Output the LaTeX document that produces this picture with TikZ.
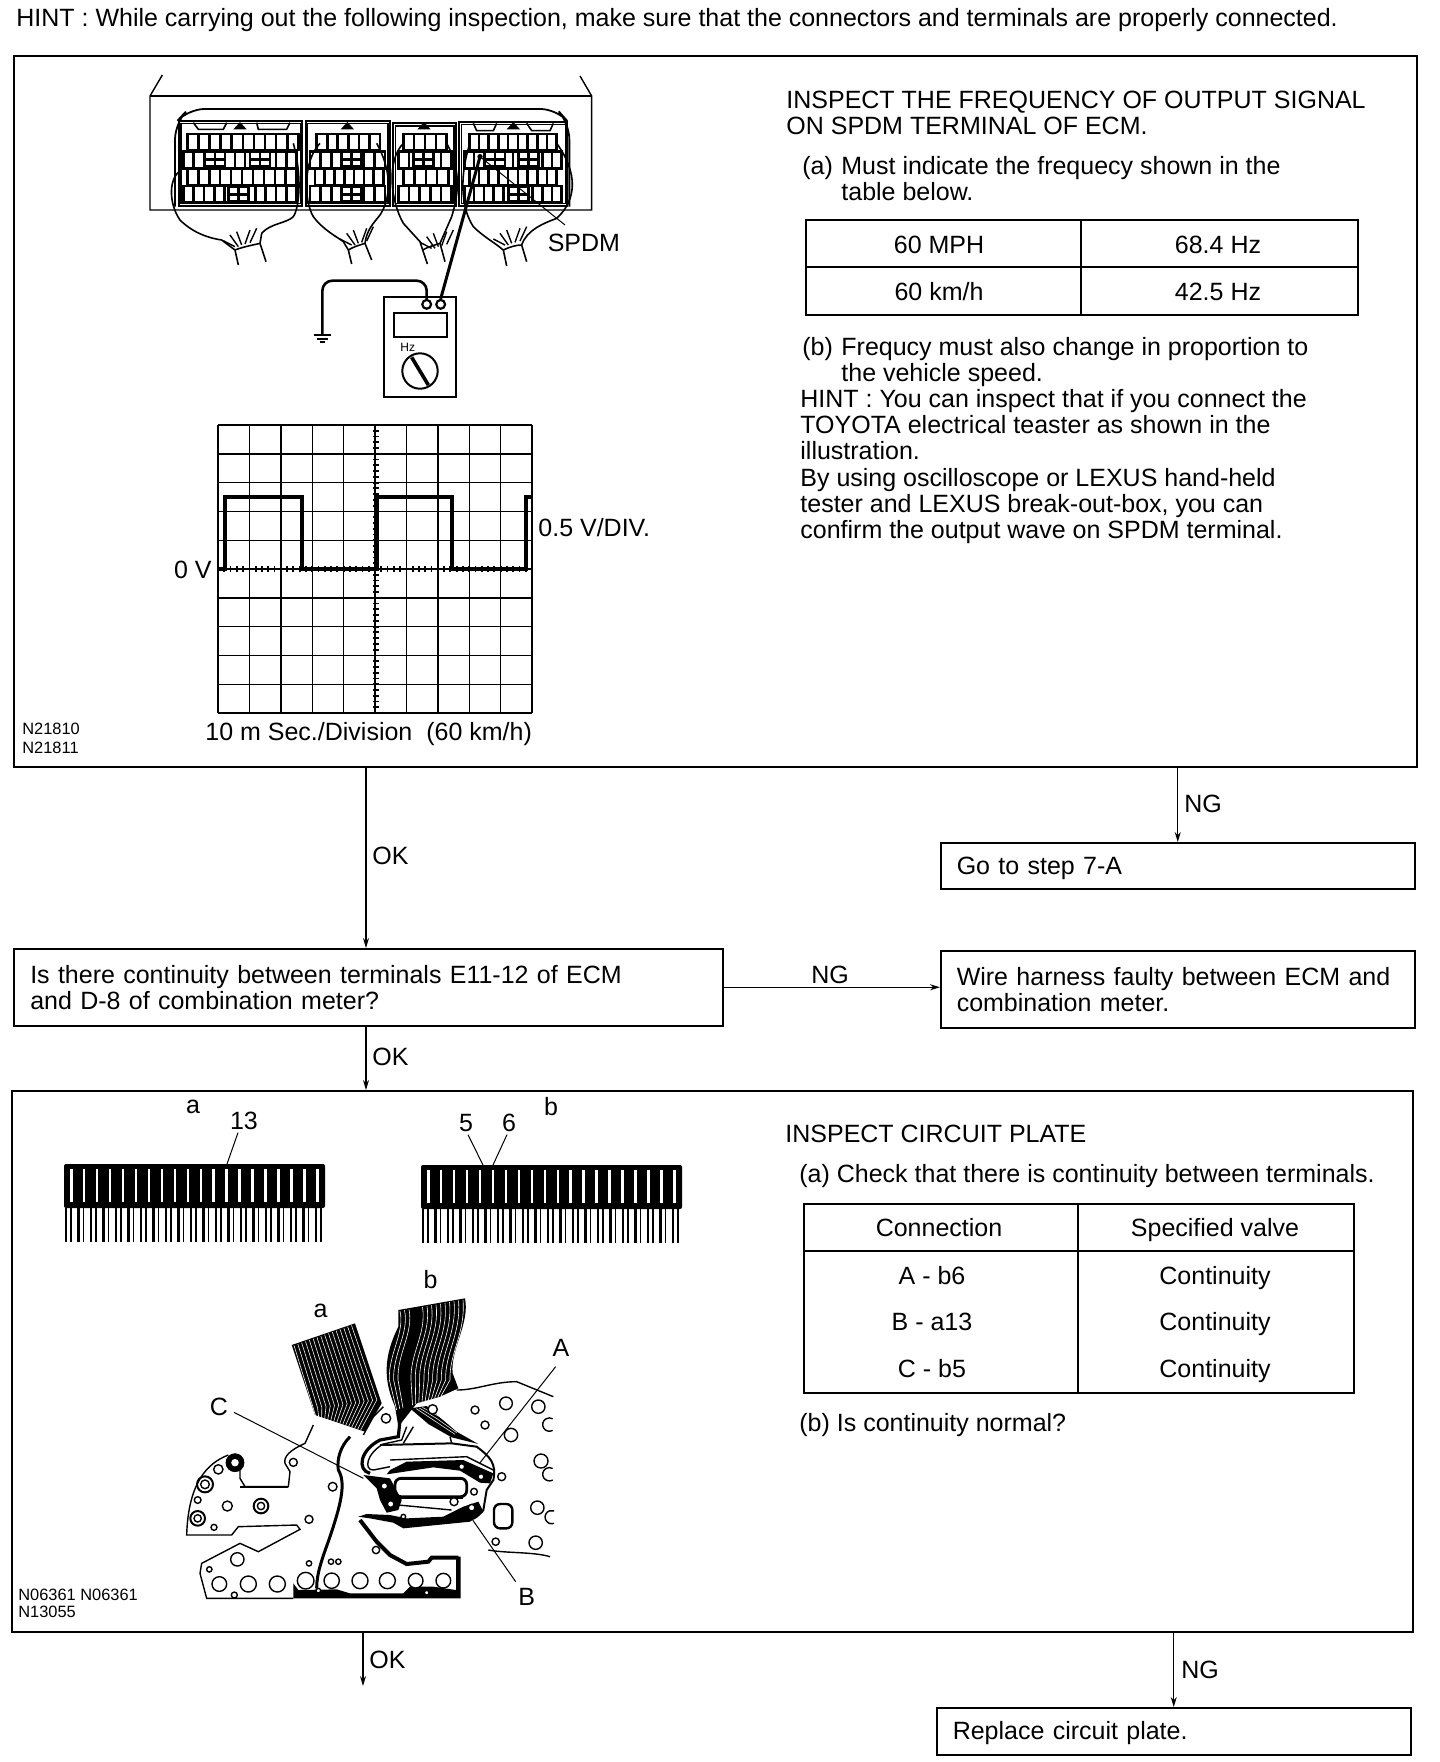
\documentclass[tikz,border=0pt]{standalone}
\usepackage{fontspec}
\usetikzlibrary{arrows.meta}
\setmainfont{Liberation Sans}
\tikzset{
  panel/.style={draw,line width=0.75pt,anchor=north west,inner sep=0pt},
  flowbox/.style={draw,line width=0.75pt,anchor=north west,inner xsep=8pt,inner ysep=0pt,align=left,font=\bodyfont},
  txt/.style={anchor=base west,inner sep=0pt,font=\bodyfont},
  mid/.style={anchor=base,inner sep=0pt,font=\bodyfont},
  tiny/.style={anchor=base west,inner sep=0pt,font=\fontsize{8.2}{9}\selectfont},
  flow/.style={->,line width=0.6pt},
  grid/.style={line width=0.7pt},
  pcb/.style={line width=0.7pt},
  hole/.style={line width=0.7pt,fill=white},
  cell/.style={line width=1.3pt},
}
\newcommand{\bodyfont}{\fontsize{12.5}{13}\selectfont}
% one row of terminals: x0,x1,y0,y1,cells
\newcommand{\conrow}[5]{
  \draw[cell] (#1,#3) rectangle (#2,#4);
  \foreach \k in {1,...,#5} \draw[cell] ({#1+(#2-#1)*\k/(#5+1)},#3) -- ({#1+(#2-#1)*\k/(#5+1)},#4);
}
\newcommand{\concross}[2]{
  \fill[white] (#1-30,#2-22) rectangle (#1+30,#2+22);
  \draw[cell] (#1-30,#2-22) rectangle (#1+30,#2+22);
  \draw[cell] (#1-30,#2) -- (#1+30,#2);
  \draw[cell] (#1,#2-22) -- (#1,#2+22);
}
% contact strip: left x, top y
\newcommand{\stripcon}[2]{
  \fill[rounded corners=1pt] (#1,#2) rectangle (#1+261,#2+44);
  \foreach \k in {0,...,19} \fill[white] ({#1+6+\k*12.95},#2+5) rectangle ({#1+8.5+\k*12.95},#2+38);
  \foreach \k in {0,...,20} {
    \draw[line width=1.2pt] ({#1+2+\k*12.5},#2+44) -- ({#1+2+\k*12.5},#2+78);
    \draw[line width=0.7pt] ({#1+7+\k*12.5},#2+44) -- ({#1+7+\k*12.5},#2+78);
  }
}
\begin{document}
\begin{tikzpicture}[>={Stealth[length=5pt,width=3pt]},x=0.5pt,y=-0.5pt]
\useasboundingbox (0,0) rectangle (1440,1762);

\node[txt] (hint) at (16,26) {HINT : While carrying out the following inspection, make sure that the connectors and terminals are properly connected.};

% panels and flow boxes
\node[panel,minimum width=701.5pt,minimum height=355.5pt] (panelA) at (13,55) {};
\node[flowbox,minimum width=237pt,minimum height=23pt,text width=221pt,text height=11pt] (gotobox) at (940,842) {Go to step 7-A};
\node[flowbox,minimum width=354.5pt,minimum height=38.5pt,text width=338pt] (askbox) at (13,948) {Is there continuity between terminals E11-12 of ECM\\and D-8 of combination meter?};
\node[flowbox,minimum width=237pt,minimum height=38.5pt,text width=221pt] (wirebox) at (940,950) {Wire harness faulty between ECM and\\combination meter.};
\node[panel,minimum width=700.5pt,minimum height=270.5pt] (panelB) at (11,1090) {};
\node[flowbox,minimum width=237pt,minimum height=23.5pt,text width=221pt,text height=11pt] (replacebox) at (936,1707) {Replace circuit plate.};
\coordinate (okA) at (366,0);
\coordinate (okB) at (363,1686);

\draw[flow] (okA |- panelA.south) -- (okA |- askbox.north);
\draw[flow] (panelA.south -| gotobox.north) -- (gotobox.north);
\draw[flow] (askbox.east) -- (askbox.east -| wirebox.west);
\draw[flow] (okA |- askbox.south) -- (okA |- panelB.north);
\draw[flow] (okB |- panelB.south) -- (okB);
\draw[flow] (panelB.south -| replacebox.north) -- (replacebox.north);
\node[txt] (okone) at (372,864) {OK};
\node[txt] (ngone) at (1184,812) {NG};
\node[txt] (ngtwo) at (811,983) {NG};
\node[txt] (oktwo) at (372,1065) {OK};
\node[txt] (okthree) at (369,1668) {OK};
\node[txt] (ngthree) at (1181,1678) {NG};

% text of first panel
\node[txt] (titleA) at (786,108) {INSPECT THE FREQUENCY OF OUTPUT SIGNAL};
\node[txt] (titleAb) at (786,134) {ON SPDM TERMINAL OF ECM.};
\node[txt] (stepa) at (802,174) {(a)};
\node[txt] (stepatxt) at (841,174) {Must indicate the frequecy shown in the};
\node[txt] (stepatwo) at (841,200) {table below.};
\node[txt] (stepb) at (802,355) {(b)};
\node[txt] (stepbtxt) at (841,355) {Frequcy must also change in proportion to};
\node[txt] (stepbtwo) at (841,381) {the vehicle speed.};
\node[txt] (hintA) at (800,407) {HINT : You can inspect that if you connect the};
\node[txt] (hintB) at (800,433) {TOYOTA electrical teaster as shown in the};
\node[txt] (hintC) at (800,459) {illustration.};
\node[txt] (hintD) at (800,486) {By using oscilloscope or LEXUS hand-held};
\node[txt] (hintE) at (800,512) {tester and LEXUS break-out-box, you can};
\node[txt] (hintF) at (800,538) {confirm the output wave on SPDM terminal.};

% frequency table
\draw[line width=1pt] (806,220) rectangle (1358,315);
\draw[line width=0.8pt] (806,267) -- (1358,267);
\draw[line width=0.8pt] (1081,220) -- (1081,315);
\node[mid] (mph) at (939,253) {60 MPH};
\node[mid] (mphhz) at (1218,253) {68.4 Hz};
\node[mid] (kmh) at (939,300) {60 km/h};
\node[mid] (kmhhz) at (1218,300) {42.5 Hz};

% ecu with connectors
\begin{scope}[shift={(130,60)},x=0.16667pt,y=-0.16667pt]
\draw[line width=0.7pt] (97,45) -- (60,108) -- (60,450) -- (1385,450) -- (1385,108) -- (1350,48);
\draw[line width=0.7pt] (60,108) -- (1385,108);
\draw[line width=0.9pt,rounded corners=8pt] (135,440) -- (135,190) -- (175,147) -- (1280,147) -- (1318,190) -- (1318,440);
\foreach \xa/\xb/\ya in {147/517/182,527/780/182,790/978/190,988/1312/185} {
  \draw[line width=1pt] (\xa,\ya) rectangle (\xb,437);
  \draw[line width=0.6pt] (\xa+6,\ya+8) rectangle (\xb-6,431);
}
\foreach \tx in {330,652,882,1150} \fill (\tx-20,208) -- (\tx,186) -- (\tx+20,208) -- cycle;
\draw[line width=0.8pt] (380,188) -- (385,208) -- (470,208) -- (480,188);
\draw[line width=0.8pt] (190,188) -- (205,208) -- (280,208) -- (290,188);
\draw[line width=0.8pt] (1030,190) -- (1040,212) -- (1090,212) -- (1100,190);
\draw[line width=0.8pt] (1190,190) -- (1205,212) -- (1260,212) -- (1270,190);
\conrow{172}{505}{222}{270}{9}
\conrow{160}{500}{275}{325}{10}
\conrow{172}{500}{325}{375}{9}
\conrow{160}{500}{378}{428}{10}
\conrow{560}{750}{222}{270}{5}
\conrow{540}{765}{275}{325}{6}
\conrow{555}{760}{325}{375}{6}
\conrow{540}{765}{378}{428}{6}
\conrow{820}{950}{222}{270}{3}
\conrow{805}{965}{275}{325}{4}
\conrow{820}{955}{325}{375}{3}
\conrow{805}{965}{378}{428}{4}
\conrow{1018}{1280}{222}{270}{8}
\conrow{1003}{1295}{275}{325}{9}
\conrow{1018}{1280}{325}{375}{8}
\conrow{1003}{1295}{378}{428}{9}
\concross{255}{298}
\concross{390}{298}
\concross{325}{403}
\concross{665}{298}
\concross{665}{403}
\concross{880}{298}
\concross{1095}{298}
\concross{1195}{298}
\concross{1165}{403}
% harness
\draw[line width=0.8pt] (155,330) .. controls (115,350) and (115,430) .. (150,480) .. controls (190,520) and (240,535) .. (275,540) -- (315,570) -- (325,615);
\draw[line width=0.8pt] (490,250) .. controls (515,340) and (510,440) .. (490,470) .. controls (470,490) and (420,490) .. (395,520) -- (390,550) -- (408,605);
\draw[line width=0.8pt] (315,570) .. controls (340,560) and (370,555) .. (390,550);
\draw[line width=0.8pt] (570,250) .. controls (520,300) and (520,420) .. (550,470) .. controls (580,510) and (620,530) .. (640,545) -- (655,570) -- (665,612);
\draw[line width=0.8pt] (740,250) .. controls (790,340) and (780,420) .. (750,465) .. controls (730,490) and (710,510) .. (705,550) -- (725,600);
\draw[line width=0.8pt] (655,570) .. controls (670,560) and (690,555) .. (705,550);
\draw[line width=0.8pt] (820,250) .. controls (770,300) and (780,420) .. (820,490) -- (870,545) -- (878,570) -- (892,612);
\draw[line width=0.8pt] (950,250) .. controls (1000,340) and (980,420) .. (965,470) -- (930,550) -- (945,605);
\draw[line width=0.8pt] (878,570) .. controls (895,560) and (915,555) .. (930,550);
\draw[line width=0.8pt] (1020,250) .. controls (990,340) and (990,440) .. (1030,500) .. controls (1060,530) and (1090,545) .. (1120,570) -- (1130,618);
\draw[line width=0.8pt] (1280,250) .. controls (1345,340) and (1340,420) .. (1280,475) .. controls (1240,490) and (1190,510) .. (1175,555) -- (1190,605);
\draw[line width=0.8pt] (1120,570) .. controls (1140,560) and (1160,555) .. (1175,555);
\foreach \nx/\ny in {275/540,625/535,865/545,1085/535} {
  \draw[line width=0.7pt] (\nx+5,\ny+2) -- (\nx+40,\ny+20);
  \draw[line width=0.7pt] (\nx+25,\ny-15) -- (\nx+50,\ny+20);
  \draw[line width=0.7pt] (\nx+45,\ny-25) -- (\nx+60,\ny+15);
  \draw[line width=0.7pt] (\nx+85,\ny-30) -- (\nx+70,\ny+12);
  \draw[line width=0.7pt] (\nx+105,\ny-35) -- (\nx+85,\ny+8);
}
% meter
\node[draw,line width=1.2pt,anchor=north west,inner sep=0pt,minimum width=36.2pt,minimum height=50pt] (meter) at (758,708) {};
\node[draw,line width=1.1pt,circle,inner sep=0pt,minimum size=4.4pt] (termA) at (890,733) {};
\node[draw,line width=1.1pt,circle,inner sep=0pt,minimum size=4.4pt] (termB) at (932,733) {};
\node[draw,line width=1pt,anchor=north west,inner sep=0pt,minimum width=26.3pt,minimum height=12.2pt] (display) at (790,755) {};
\node[anchor=center,inner sep=0pt,font=\fontsize{6}{6}\selectfont] (hzlabel) at (833,862) {Hz};
\node[draw,line width=1pt,circle,inner sep=0pt,minimum size=17.7pt] (dial) at (870,933) {};
\draw[line width=1.8pt] (845,892) -- (895,975);
\coordinate (gnd) at (577,822);
\coordinate (pin) at (1050,290);
\draw[line width=1.3pt,rounded corners=5pt] (termA.north) -- (termA.north |- 0,662) -- (577,662) -- (gnd);
\draw[line width=1.5pt] (termB.north) -- (pin);
\draw[line width=0.9pt] (553,826) -- (603,826);
\draw[line width=0.9pt] (562,836) -- (594,836);
\draw[line width=0.9pt] (570,846) -- (586,846);
\fill (pin) circle (8);
\node[anchor=base west,inner sep=0pt,font=\bodyfont] (spdm) at (1252,575) {SPDM};
\draw[line width=0.5pt] (pin) -- (1305,495);
\end{scope}

% scope screen
\foreach \i in {0,...,10} \draw[grid] ({218+31.4*\i},425) -- ({218+31.4*\i},713);
\foreach \j in {0,...,10} \draw[grid] (218,{425+28.8*\j}) -- (532,{425+28.8*\j});
\foreach \i in {1,...,49} \draw[line width=0.9pt] ({218+6.28*\i},566) -- ({218+6.28*\i},572);
\foreach \j in {1,...,49} \draw[line width=0.9pt] (373,{425+5.76*\j}) -- (379,{425+5.76*\j});
\draw[line width=1.8pt] (218,569) -- (225,569) -- (225,497) -- (302,497) -- (302,569) -- (377,569) -- (377,497) -- (452,497) -- (452,569) -- (526,569) -- (526,497) -- (532,497);
\node[anchor=base east,inner sep=0pt,font=\bodyfont] (zero) at (212,578) {0 V};
\node[txt] (vdiv) at (538,536) {0.5 V/DIV.};
\node[txt] (tdiv) at (205,740) {10 m Sec./Division\ \ (60 km/h)};
\node[tiny] (codeA) at (22,734) {N21810};
\node[tiny] (codeB) at (22,753) {N21811};

% contact strips
\stripcon{64}{1164}
\stripcon{421}{1165}
\node[mid] (stripa) at (193,1113) {a};
\node[mid] (pinA) at (244,1129) {13};
\node[mid] (pinB) at (466,1131) {5};
\node[mid] (pinC) at (509,1131) {6};
\node[mid] (stripb) at (551,1115) {b};
\draw[line width=0.5pt] (pinA.south) ++(-6,3) -- (227,1164);
\draw[line width=0.5pt] (pinB.south) ++(2,3) -- (483,1165);
\draw[line width=0.5pt] (pinC.south) ++(-2,3) -- (493,1165);

% circuit plate
\begin{scope}[shift={(150,1240)},x=0.16667pt,y=-0.16667pt]
% board outline
\draw[pcb] (490,555) -- (465,610) .. controls (420,630) and (400,650) .. (405,670) -- (420,695) -- (415,740) -- (285,740) -- (270,715) -- (270,670);
\draw[pcb] (235,645) .. controls (170,670) and (115,730) .. (110,885) -- (245,885) -- (265,860) -- (440,855) -- (450,868) -- (325,935) -- (270,910) -- (155,970) -- (150,1000) -- (170,1075) -- (430,1075);
\draw[pcb] (920,450) .. controls (980,450) and (1030,425) .. (1100,425) -- (1210,470);
\draw[pcb] (1015,930) .. controls (1070,940) and (1150,935) .. (1200,950);
\draw[line width=1.1pt] (270,740) -- (285,740) -- (415,740);
\draw[line width=1.5pt] (600,590) .. controls (570,620) and (560,660) .. (565,690) .. controls (590,730) and (570,800) .. (540,890) .. controls (515,960) and (500,1000) .. (500,1045);
% ribbon a
\fill (425,315) -- (615,250) -- (695,490) -- (645,575) -- (495,525) -- cycle;
\foreach \i in {0,...,15} \draw[white,line width=0.28pt] ({432+\i*11.5},{316-\i*4}) -- ({490+\i*12.7},{505-\i*1.7}) -- ({497+\i*9},{528+\i*2.8});
% ribbon b
\fill (745,210) -- (945,175) .. controls (960,250) and (900,330) .. (908,400) -- (925,445) -- (870,470) -- (800,490) -- (745,560) -- (735,500) .. controls (700,420) and (700,350) .. (745,260) -- cycle;
\foreach \i in {0,1,2,5,6,7,8,9,10,11,12,13,14} \draw[white,line width=0.3pt] ({750+\i*13.5},{213-\i*2.4}) .. controls ({765+\i*13},280) and ({715+\i*13},340) .. ({718+\i*13},420) -- ({740+\i*9.5},{510-\i*3});
\fill (780,505) -- (830,498) -- (920,575) -- (985,612) -- (905,592) -- (835,552) -- cycle;
\foreach \i in {1,2,3} \draw[white,line width=0.25pt] ({790+\i*9},{508-\i*2}) -- ({845+\i*8},{548-\i*6}) -- ({910+\i*5},{588-\i*5});
\draw[pcb] (640,585) -- (670,530) -- (700,500);
% traces
\draw[line width=1.6pt] (750,540) -- (745,590) -- (690,600) .. controls (630,630) and (620,690) .. (660,700);
\draw[line width=0.7pt] (770,560) -- (755,600) -- (700,612) .. controls (650,640) and (640,690) .. (670,690) -- (720,680);
\draw[line width=1pt] (690,615) -- (905,610) -- (980,620) .. controls (1020,650) and (1040,670) .. (1030,720) -- (1010,750) -- (1000,810) .. controls (980,835) and (965,840) .. (950,840);
\draw[pcb] (720,660) -- (950,650) -- (1030,690);
\draw[pcb] (760,610) -- (790,560);
\draw[pcb] (905,610) -- (900,590);
\fill (720,690) -- (770,665) -- (940,660) -- (1030,700) -- (1020,730) -- (990,728) -- (930,692) -- (850,682) -- (710,703) -- cycle;
\fill (640,705) -- (720,715) -- (755,780) -- (745,810) -- (710,818) -- (690,780) -- (680,745) -- cycle;
\draw[line width=1.4pt,rounded corners=3pt] (735,715) rectangle (950,770);
\draw[line width=1.2pt] (745,772) -- (940,772);
\draw[pcb] (745,795) -- (905,810);
\fill (625,830) -- (650,822) -- (720,825) -- (770,835) -- (880,830) -- (940,800) -- (985,785) -- (1000,815) -- (960,845) -- (760,865) -- (730,848) -- (660,835) -- cycle;
\draw[line width=2pt] (630,840) -- (680,905) -- (720,945) -- (770,972) -- (835,965) -- (845,953) -- (925,953);
\fill (925,950) -- (932,950) -- (932,1075) -- (430,1075) -- (430,1030) -- (445,1050) -- (560,1048) -- (600,1060) -- (760,1060) -- (780,1040) -- (850,1040) -- (918,1050) -- (918,950) -- cycle;
\draw[line width=1.2pt,rounded corners=3pt] (1032,792) rectangle (1087,865);
% holes
\foreach \hx/\hy/\hr in {205/688/14,143/780/10,232/798/15,192/862/9,430/667/12,548/740/13,477/838/12,262/958/20,178/988/8,208/1032/22,295/1032/24,382/1032/24,467/1022/25,545/1022/23,630/1022/24,712/1022/24,797/1022/22,880/1022/22,253/1065/9,477/970/8,543/965/8,565/965/8,678/930/11,505/1052/7,830/1058/7,975/510/12,1068/490/19,1165/500/20,1005/555/12,1083/585/20,1173/663/21,1162/803/20,1157/908/20,1037/905/11,1055/710/12,848/508/14,708/535/14,935/680/9,993/710/9,703/738/10,722/792/10,965/803/10,760/830/7,972/755/10,912/785/12}
  \draw[hole] (\hx,\hy) circle (\hr);
\foreach \hx/\hy/\hr in {255/668/25,165/733/24,143/835/22,333/798/22} {
  \draw[line width=1pt] (\hx,\hy) circle (\hr);
  \draw[hole] (\hx,\hy) circle ({\hr-11});
}
\draw[line width=2.4pt] (255,668) circle (20);
\foreach \hx/\hy in {1208/588,1208/737} \draw[pcb] (\hx,\hy-17) arc (60:300:20);
\draw[pcb] (1212,850) arc (70:290:20);
% labels
\node[mid] (ribbona) at (512,232) {a};
\node[mid] (ribbonb) at (842,145) {b};
\node[mid] (termpa) at (1233,348) {A};
\node[mid] (termpb) at (1130,1097) {B};
\node[mid] (termpc) at (207,527) {C};
\draw[line width=0.5pt] (1217,380) -- (990,668);
\draw[line width=0.5pt] (968,840) -- (1097,1025);
\draw[line width=0.5pt] (252,517) -- (640,715);
\end{scope}
\node[tiny] (codeC) at (18,1600) {N06361 N06361};
\node[tiny] (codeD) at (18,1617) {N13055};

% text of second panel
\node[txt] (titleB) at (785,1142) {INSPECT CIRCUIT PLATE};
\node[txt] (checka) at (799,1182) {(a) Check that there is continuity between terminals.};
\draw[line width=1pt] (804,1204) rectangle (1354,1393);
\draw[line width=1pt] (804,1251) -- (1354,1251);
\draw[line width=0.8pt] (1078,1204) -- (1078,1393);
\node[mid] (conn) at (939,1236) {Connection};
\node[mid] (spec) at (1215,1236) {Specified valve};
\node[mid] (conA) at (932,1284) {A - b6};
\node[mid] (resA) at (1215,1284) {Continuity};
\node[mid] (conB) at (932,1330) {B - a13};
\node[mid] (resB) at (1215,1330) {Continuity};
\node[mid] (conC) at (932,1377) {C - b5};
\node[mid] (resC) at (1215,1377) {Continuity};
\node[txt] (checkb) at (799,1431) {(b) Is continuity normal?};
\end{tikzpicture}
\end{document}
